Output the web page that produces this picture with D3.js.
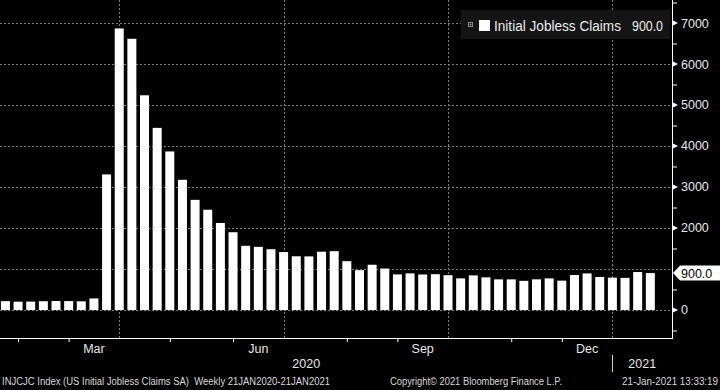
<!DOCTYPE html>
<html>
<head>
<meta charset="utf-8">
<script src="https://cdn.jsdelivr.net/npm/d3@7"></script>
<style>
  html, body { margin: 0; padding: 0; background: #000; }
  svg { display: block; }
  text { font-family: "Liberation Sans", Arial, sans-serif; }
</style>
</head>
<body>
<svg id="chart" width="720" height="390"></svg>
<script>
// ---- data (release dates of weekly US initial jobless claims, thousands) ----
const dates = [
  "2020-01-30","2020-02-06","2020-02-13","2020-02-20","2020-02-27","2020-03-05","2020-03-12","2020-03-19",
  "2020-03-26","2020-04-02","2020-04-09","2020-04-16","2020-04-23","2020-04-30","2020-05-07","2020-05-14",
  "2020-05-21","2020-05-28","2020-06-04","2020-06-11","2020-06-18","2020-06-25","2020-07-02","2020-07-09",
  "2020-07-16","2020-07-23","2020-07-30","2020-08-06","2020-08-13","2020-08-20","2020-08-27","2020-09-03",
  "2020-09-10","2020-09-17","2020-09-24","2020-10-01","2020-10-08","2020-10-15","2020-10-22","2020-10-29",
  "2020-11-05","2020-11-12","2020-11-19","2020-11-26","2020-12-03","2020-12-10","2020-12-17","2020-12-24",
  "2020-12-31","2021-01-07","2021-01-14","2021-01-21"
];
const claims = [
  216, 202, 205, 214, 219, 217, 211, 282,
  3307, 6867, 6615, 5237, 4442, 3867, 3176, 2687,
  2446, 2123, 1897, 1566, 1540, 1482, 1413, 1310,
  1307, 1422, 1435, 1191, 971, 1104, 1011, 868,
  893, 866, 873, 849, 771, 844, 796, 747,
  747, 711, 748, 771, 716, 853, 892, 806,
  790, 784, 926, 900
];
const seriesName = "Initial Jobless Claims";
const lastValueLabel = "900.0";
const yGridTicks = [0, 1000, 2000, 3000, 4000, 5000, 6000, 7000];
const yLabelTicks = [0, 2000, 3000, 4000, 5000, 6000, 7000]; // 1000 is covered by the last-value tag
const yMinorTicks = [-500, 500, 1500, 2500, 3500, 4500, 5500, 6500, 7500];
const monthTicks = ["2020-02-06","2020-03-05","2020-04-30","2020-06-04","2020-08-06","2020-09-03","2020-11-05","2020-12-03"];
const quarterLines = ["2020-04-02","2020-07-02","2020-10-01","2020-12-31"];
const monthNames = ["Mar", "Jun", "Sep", "Dec"];
const monthFrom = ["2020-03-05","2020-06-04","2020-09-03","2020-12-03"];
const monthTo = ["2020-04-02","2020-07-02","2020-10-01","2020-12-31"];
const yearNames = ["2020", "2021"];
const yearSplit = "2020-12-31";
const domainStart = "2020-01-27";
const domainEnd = "2021-02-02";
const footerLeft = "INJCJC Index (US Initial Jobless Claims SA)  Weekly 21JAN2020-21JAN2021";
const footerMid = "Copyright\u00A9 2021 Bloomberg Finance L.P.";
const footerRight = "21-Jan-2021 13:33:19";

// ---- layout ----
const parse = d3.utcParse("%Y-%m-%d");
const W = 720, H = 390;
const plotL = 0, plotR = 672, plotT = 0, plotB = 338;
const svg = d3.select("#chart");
svg.append("rect").attr("width", W).attr("height", H).attr("fill", "#000");

const x = d3.scaleUtc().domain([parse(domainStart), parse(domainEnd)]).range([plotL, plotR]);
const y = d3.scaleLinear().domain([-683, 7561]).range([plotB, plotT]);

const grid = svg.append("g");
const gridColor = "#7a7a7a";
grid.selectAll("line.h").data(yGridTicks).join("line")
  .attr("x1", plotL).attr("x2", plotR)
  .attr("y1", d => Math.round(y(d)) + 0.5).attr("y2", d => Math.round(y(d)) + 0.5)
  .attr("stroke", gridColor).attr("stroke-width", 1).attr("stroke-dasharray", "2,2");
grid.selectAll("line.v").data(quarterLines).join("line")
  .attr("x1", d => Math.round(x(parse(d))) + 0.5).attr("x2", d => Math.round(x(parse(d))) + 0.5)
  .attr("y1", plotT).attr("y2", plotB)
  .attr("stroke", gridColor).attr("stroke-width", 1).attr("stroke-dasharray", "2,2");

// bars
const barW = 9;
svg.append("g").selectAll("rect").data(dates.map((d, i) => ({ d: parse(d), v: claims[i] }))).join("rect")
  .attr("x", d => x(d.d) - barW / 2)
  .attr("width", barW)
  .attr("y", d => y(d.v))
  .attr("height", d => y(0) - y(d.v))
  .attr("fill", "#ffffff");

// axis lines
svg.append("line").attr("x1", plotR + 0.5).attr("x2", plotR + 0.5).attr("y1", plotT).attr("y2", plotB + 1)
  .attr("stroke", "#fff").attr("stroke-width", 1);
svg.append("line").attr("x1", plotL).attr("x2", plotR + 1).attr("y1", plotB + 0.5).attr("y2", plotB + 0.5)
  .attr("stroke", "#fff").attr("stroke-width", 1);

// y axis labels
const yAxis = svg.append("g").attr("transform", `translate(${plotR + 1},0)`)
  .call(d3.axisRight(y).tickValues(yLabelTicks).tickSize(0).tickPadding(8).tickFormat(d3.format("d")));
yAxis.select(".domain").remove();
yAxis.selectAll("text").attr("fill", "#e8e8e8").style("font-size", "12.5px")
  .style("font-family", "'Liberation Sans', Arial, sans-serif");
// triangle tick markers
svg.append("g").selectAll("path").data(yLabelTicks).join("path")
  .attr("d", d => { const yy = y(d); return `M${plotR + 1},${yy - 2.5} L${plotR + 6},${yy} L${plotR + 1},${yy + 2.5} Z`; })
  .attr("fill", "#fff");
// minor ticks
svg.append("g").attr("transform", `translate(${plotR + 1},0)`)
  .call(d3.axisRight(y).tickValues(yMinorTicks).tickSize(4).tickFormat(""))
  .call(g => g.select(".domain").remove())
  .selectAll("line").attr("stroke", "#fff");

// last value tag
const tagY = y(claims[claims.length - 1]);
svg.append("path")
  .attr("d", `M${plotR + 1},${tagY} L${plotR + 8},${tagY - 7.5} L${W},${tagY - 7.5} L${W},${tagY + 7.5} L${plotR + 8},${tagY + 7.5} Z`)
  .attr("fill", "#fff");
svg.append("text").attr("x", plotR + 9).attr("y", tagY).attr("dy", "0.36em")
  .attr("fill", "#000").style("font-size", "12.5px").text(lastValueLabel);

// x axis minor ticks
svg.append("g").attr("transform", `translate(0,${plotB + 1})`)
  .call(d3.axisBottom(x).tickValues(monthTicks.map(parse)).tickSize(3).tickFormat(""))
  .call(g => g.select(".domain").remove())
  .selectAll("line").attr("stroke", "#fff");

// month labels
svg.append("g").selectAll("text").data(monthNames).join("text")
  .attr("x", (d, i) => (x(parse(monthFrom[i])) + x(parse(monthTo[i]))) / 2)
  .attr("y", 353)
  .attr("text-anchor", "middle").attr("fill", "#e8e8e8").style("font-size", "12.5px")
  .text(d => d);

// year labels
const split = x(parse(yearSplit));
svg.append("text").attr("x", (plotL + split) / 2).attr("y", 368).attr("text-anchor", "middle")
  .attr("fill", "#e8e8e8").style("font-size", "12.5px").text(yearNames[0]);
svg.append("text").attr("x", (split + plotR) / 2).attr("y", 368).attr("text-anchor", "middle")
  .attr("fill", "#e8e8e8").style("font-size", "12.5px").text(yearNames[1]);
svg.append("line").attr("x1", Math.round(split) + 0.5).attr("x2", Math.round(split) + 0.5)
  .attr("y1", 355).attr("y2", 372).attr("stroke", "#cfcfcf").attr("stroke-width", 1);

// legend
const lg = svg.append("g");
lg.append("rect").attr("x", 461).attr("y", 10).attr("width", 209).attr("height", 29).attr("fill", "#141414");
lg.append("rect").attr("x", 468.5).attr("y", 22.5).attr("width", 4).attr("height", 4)
  .attr("fill", "none").attr("stroke", "#8a8a8a").attr("stroke-width", 1);
lg.append("path").attr("d", "M469.5,24.5 H471.5 M470.5,23.5 V25.5").attr("stroke", "#8a8a8a").attr("stroke-width", 1);
lg.append("rect").attr("x", 479).attr("y", 20).attr("width", 11).attr("height", 11).attr("fill", "#fff");
lg.append("text").attr("x", 494).attr("y", 31).attr("fill", "#ececec").style("font-size", "14px")
  .attr("textLength", 127).attr("lengthAdjust", "spacingAndGlyphs").text(seriesName);
lg.append("text").attr("x", 632).attr("y", 31).attr("fill", "#ececec").style("font-size", "14px")
  .attr("textLength", 31).attr("lengthAdjust", "spacingAndGlyphs").text(lastValueLabel);

// footer
const ft = svg.append("g").attr("fill", "#d8d8d8").style("font-size", "10px");
ft.append("text").attr("x", 2).attr("y", 385).attr("textLength", 328).attr("lengthAdjust", "spacingAndGlyphs")
  .style("white-space", "pre").text(footerLeft);
ft.append("text").attr("x", 390).attr("y", 385).attr("textLength", 172).attr("lengthAdjust", "spacingAndGlyphs").text(footerMid);
ft.append("text").attr("x", 622).attr("y", 385).attr("textLength", 96).attr("lengthAdjust", "spacingAndGlyphs").text(footerRight);
</script>
</body>
</html>
